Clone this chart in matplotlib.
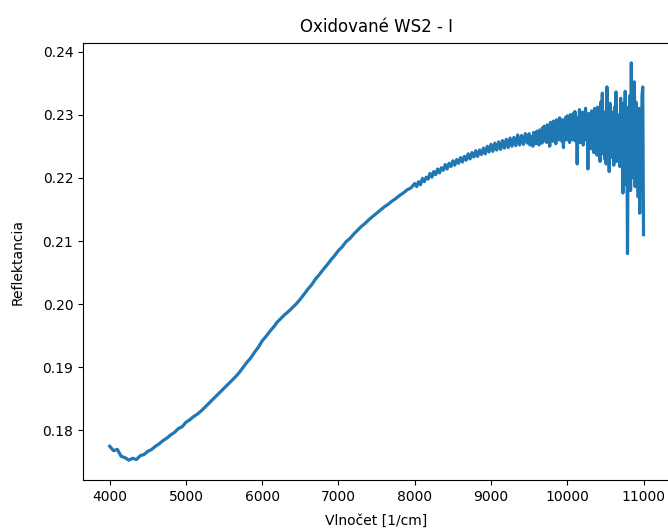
import numpy as np
import matplotlib
matplotlib.use('Agg')
import matplotlib.pyplot as plt

# wavenumber grid of the three parts of the spectrum [1/cm]
wn_1 = np.arange(4000, 8000, 50)
wn_2 = np.arange(8000, 9500, 25)
wn_3 = np.arange(9500, 11001, 10)

# reflectance
refl_1 = [0.1775, 0.1768, 0.1770, 0.1759, 0.1757, 0.1753, 0.1756, 0.1754, 0.1760, 0.1762,
          0.1767, 0.1770, 0.1775, 0.1779, 0.1784, 0.1788, 0.1793, 0.1797, 0.1803, 0.1806,
          0.1813, 0.1817, 0.1822, 0.1826, 0.1831, 0.1837, 0.1843, 0.1849, 0.1855, 0.1861,
          0.1867, 0.1873, 0.1879, 0.1885, 0.1892, 0.1900, 0.1908, 0.1915, 0.1924, 0.1932,
          0.1942, 0.1949, 0.1957, 0.1964, 0.1972, 0.1978, 0.1984, 0.1989, 0.1995, 0.2001,
          0.2008, 0.2016, 0.2024, 0.2031, 0.2040, 0.2047, 0.2055, 0.2062, 0.2070, 0.2077,
          0.2085, 0.2091, 0.2099, 0.2104, 0.2111, 0.2117, 0.2123, 0.2128, 0.2134, 0.2139,
          0.2144, 0.2149, 0.2154, 0.2158, 0.2163, 0.2167, 0.2172, 0.2176, 0.2181, 0.2184]

refl_2 = [0.2191, 0.2186, 0.2194, 0.2189, 0.2199, 0.2194, 0.2201, 0.2198, 0.2207, 0.2201,
          0.2210, 0.2205, 0.2214, 0.2208, 0.2216, 0.2212, 0.2221, 0.2214, 0.2223, 0.2218,
          0.2227, 0.2220, 0.2229, 0.2223, 0.2232, 0.2225, 0.2234, 0.2228, 0.2238, 0.2230,
          0.2240, 0.2233, 0.2243, 0.2234, 0.2244, 0.2237, 0.2247, 0.2238, 0.2250, 0.2241,
          0.2253, 0.2242, 0.2255, 0.2244, 0.2257, 0.2245, 0.2259, 0.2247, 0.2261, 0.2248,
          0.2263, 0.2250, 0.2264, 0.2251, 0.2268, 0.2252, 0.2267, 0.2253, 0.2270, 0.2255]

refl_3 = [0.2270, 0.2252, 0.2266, 0.2256, 0.2262, 0.2250, 0.2272, 0.2258, 0.2268, 0.2254,
          0.2274, 0.2256, 0.2270, 0.2252, 0.2276, 0.2260, 0.2266, 0.2255, 0.2280, 0.2258,
          0.2282, 0.2260, 0.2274, 0.2256, 0.2284, 0.2262, 0.2278, 0.2250, 0.2288, 0.2264,
          0.2286, 0.2258, 0.2290, 0.2262, 0.2280, 0.2254, 0.2292, 0.2266, 0.2284, 0.2260,
          0.2295, 0.2262, 0.2288, 0.2258, 0.2292, 0.2248, 0.2286, 0.2266, 0.2296, 0.2260,
          0.2298, 0.2264, 0.2290, 0.2256, 0.2300, 0.2268, 0.2294, 0.2260, 0.2302, 0.2262,
          0.2305, 0.2258, 0.2296, 0.2222, 0.2290, 0.2262, 0.2308, 0.2256, 0.2298, 0.2266,
          0.2304, 0.2252, 0.2300, 0.2270, 0.2310, 0.2260, 0.2296, 0.2214, 0.2302, 0.2250,
          0.2298, 0.2246, 0.2306, 0.2252, 0.2294, 0.2240, 0.2310, 0.2256, 0.2300, 0.2236,
          0.2312, 0.2244, 0.2306, 0.2226, 0.2320, 0.2250, 0.2334, 0.2238, 0.2304, 0.2230,
          0.2300, 0.2222, 0.2344, 0.2240, 0.2310, 0.2210, 0.2318, 0.2246, 0.2296, 0.2232,
          0.2304, 0.2220, 0.2312, 0.2236, 0.2336, 0.2226, 0.2300, 0.2240, 0.2290, 0.2218,
          0.2326, 0.2226, 0.2304, 0.2176, 0.2318, 0.2200, 0.2337, 0.2190, 0.2310, 0.2080,
          0.2312, 0.2196, 0.2330, 0.2180, 0.2382, 0.2200, 0.2350, 0.2210, 0.2352, 0.2186,
          0.2320, 0.2190, 0.2300, 0.2170, 0.2310, 0.2144, 0.2290, 0.2180, 0.2330, 0.2344,
          0.2110]

wn = np.concatenate([wn_1, wn_2, wn_3])
refl = np.concatenate([refl_1, refl_2, refl_3])

fig = plt.figure(figsize=(6.68, 5.32), dpi=100)
ax = fig.add_axes([0.1243, 0.0977, 0.879, 0.8214])
ax.plot(wn, refl, linewidth=2.3)
ax.set_title('Oxidované WS2 - I', pad=8)
ax.set_xlabel('Vlnočet [1/cm]', labelpad=7)
ax.set_ylabel('Reflektancia', labelpad=13)
fig.savefig('out.png', dpi=100)
plt.close()
